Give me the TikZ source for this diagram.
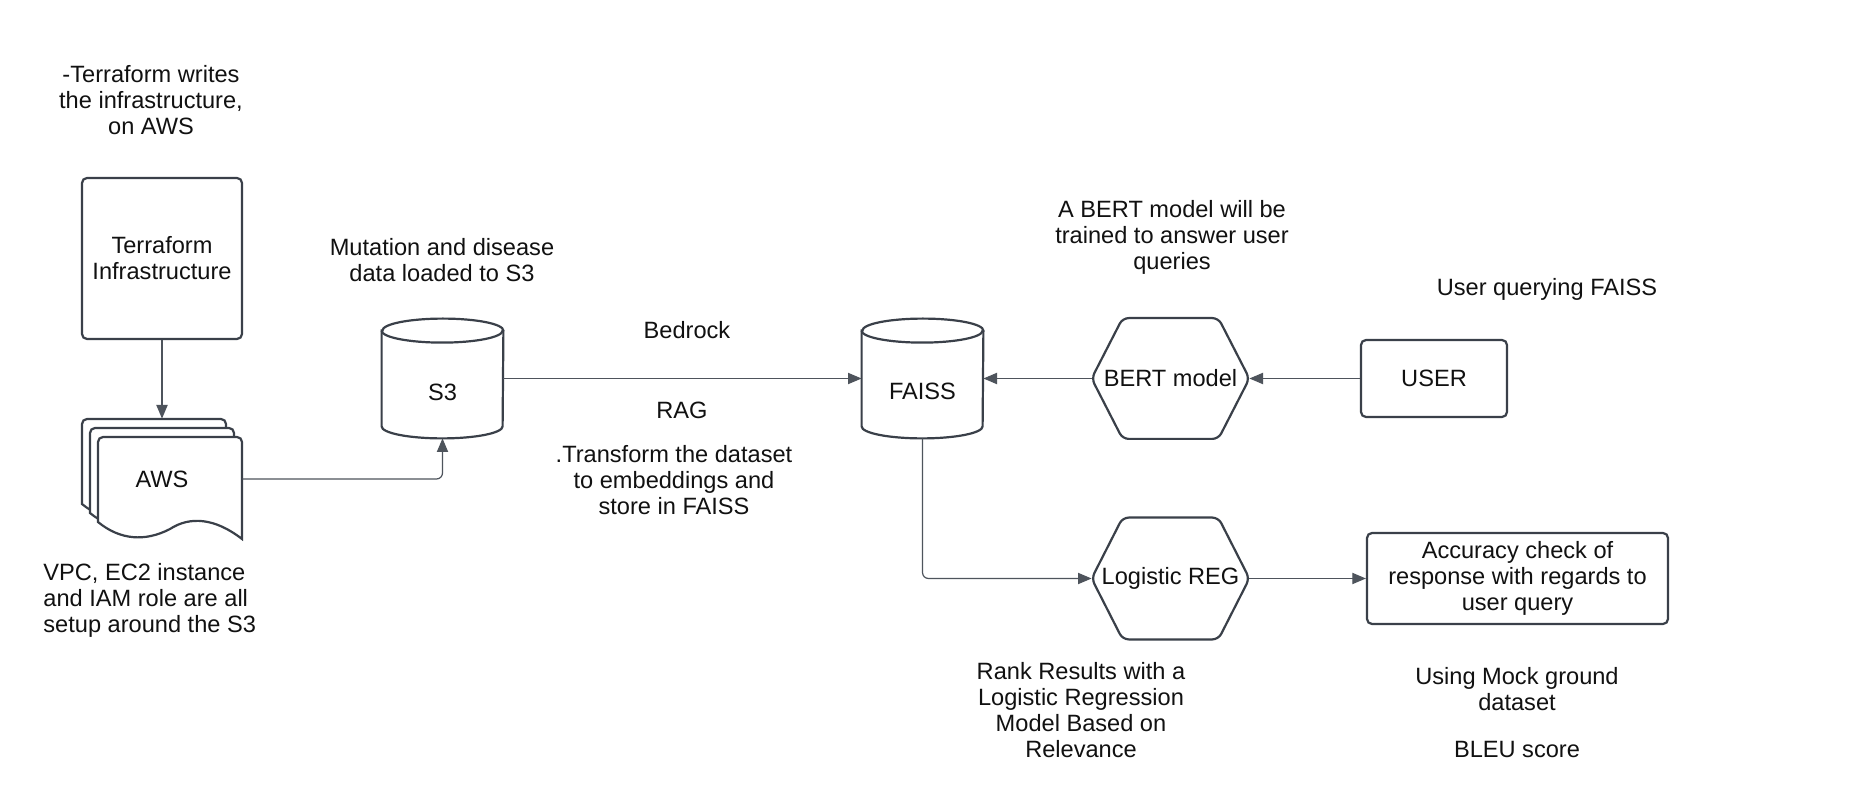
\documentclass[tikz,border=0pt]{standalone}
\usepackage{fontspec}
\setmainfont{Liberation Sans}
\usetikzlibrary{arrows.meta}
\definecolor{shapeline}{HTML}{3A4049}
\definecolor{connline}{HTML}{4E545C}
\definecolor{txt}{HTML}{111111}
\tikzset{
  every node/.style={font=\fontsize{11.8pt}{13pt}\selectfont, text=txt},
  boxnode/.style={draw=shapeline, line width=1.1pt, rounded corners=2.5pt, align=center, inner sep=0pt},
  ghost/.style={inner sep=0pt, align=center},
  outline/.style={draw=shapeline, line width=1.1pt, fill=white},
  conn/.style={draw=connline, line width=0.6pt, rounded corners=3pt,
    -{Triangle[length=6.8pt,width=5.6pt]}},
  note/.style={align=center, inner sep=0pt}
}
\newcommand\mycyl[1]{%
  \path[outline] ([yshift=-6pt]#1.north west) -- ([yshift=6pt]#1.south west)
    arc[start angle=180,end angle=360,x radius=30.25pt,y radius=6pt]
    -- ([yshift=-6pt]#1.north east)
    arc[start angle=0,end angle=180,x radius=30.25pt,y radius=6pt] -- cycle;
  \draw[shapeline, line width=1.1pt] ([yshift=-6pt]#1.north west)
    arc[start angle=180,end angle=360,x radius=30.25pt,y radius=6pt];
}
\newcommand\myhex[1]{%
  \draw[shapeline, line width=1.1pt, rounded corners=3pt] (#1.west)
    -- ([xshift=15.5pt]#1.north west) -- ([xshift=-15.5pt]#1.north east)
    -- (#1.east) -- ([xshift=-15.5pt]#1.south east)
    -- ([xshift=15.5pt]#1.south west) -- cycle;
}
\newcommand\mypage[2]{%
  \path[outline, rounded corners=2.5pt] (98+#1,522+#2) -- (98+#1,437+#2) -- (242+#1,437+#2)
    [sharp corners] -- (242+#1,539+#2)
    .. controls (215+#1,518+#2) and (190+#1,516+#2) .. (170+#1,529+#2)
    .. controls (145+#1,542+#2) and (120+#1,540+#2) .. (98+#1,522+#2) -- cycle;
}
\begin{document}
\begin{tikzpicture}[x=0.5pt,y=-0.5pt]
\useasboundingbox[fill=white] (0,0) rectangle (1859,807);

% notes
\node[note] (n1) at (151,100) {-Terraform writes\\the infrastructure,\\on AWS};
\node[note] (n2) at (442,260) {Mutation and disease\\data loaded to S3};
\node[note] (n3) at (687,330) {Bedrock};
\node[note] (n4) at (682,410) {RAG};
\node[note] (n5) at (674,480) {.Transform the dataset\\to embeddings and\\store in FAISS};
\node[note] (n6) at (1172,237) {A BERT model will be\\trained to answer user\\queries};
\node[note] (n7) at (1547,289) {User querying FAISS};
\node[note, align=left, anchor=west] (n8) at (43,600) {VPC, EC2 instance\\and IAM role are all\\setup around the S3};
\node[note] (n9) at (1081,710) {Rank Results with a\\Logistic Regression\\Model Based on\\Relevance};
\node[note] (n10) at (1517,689) {Using Mock ground\\dataset};
\node[note] (n11) at (1517,749) {BLEU score};

% Terraform box
\node[boxnode, minimum width=80pt, minimum height=80.5pt] (tf) at (162,258.5) {Terraform\\Infrastructure};

% AWS multi-document
\mypage{-16}{-18}
\mypage{-8}{-9}
\mypage{0}{0}
\node[ghost, minimum width=80pt, minimum height=60pt] (aws) at (162,479) {AWS};

% S3 cylinder
\node[ghost, minimum width=60.5pt, minimum height=59.5pt] (s3) at (442.5,378.5) {};
\mycyl{s3}
\node[note] (s3t) at (442.5,392) {S3};

% FAISS cylinder
\node[ghost, minimum width=60.5pt, minimum height=59.5pt] (faiss) at (922.5,378.5) {};
\mycyl{faiss}
\node[note] (faisst) at (922.5,391) {FAISS};

% hexagons
\node[ghost, minimum width=78.5pt, minimum height=60pt] (bert) at (1170.5,378.5) {BERT model};
\myhex{bert}
\node[ghost, minimum width=78.5pt, minimum height=60.5pt] (logreg) at (1170.5,578.5) {Logistic REG};
\myhex{logreg}

% boxes
\node[boxnode, minimum width=73pt, minimum height=38.5pt] (user) at (1434,378.5) {USER};
\node[boxnode, minimum width=150.5pt, minimum height=45.5pt] (acc) at (1517.5,578.5) {Accuracy check of\\response with regards to\\user query};

% connectors
\draw[conn] (tf.south) -- (aws.north);
\draw[conn] (aws.east) -| (s3.south);
\draw[conn] (s3.east) -- (faiss.west);
\draw[conn] (bert.west) -- (faiss.east);
\draw[conn] (user.west) -- (bert.east);
\draw[conn] (faiss.south) |- (logreg.west);
\draw[conn] (logreg.east) -- (acc.west);
\end{tikzpicture}
\end{document}
